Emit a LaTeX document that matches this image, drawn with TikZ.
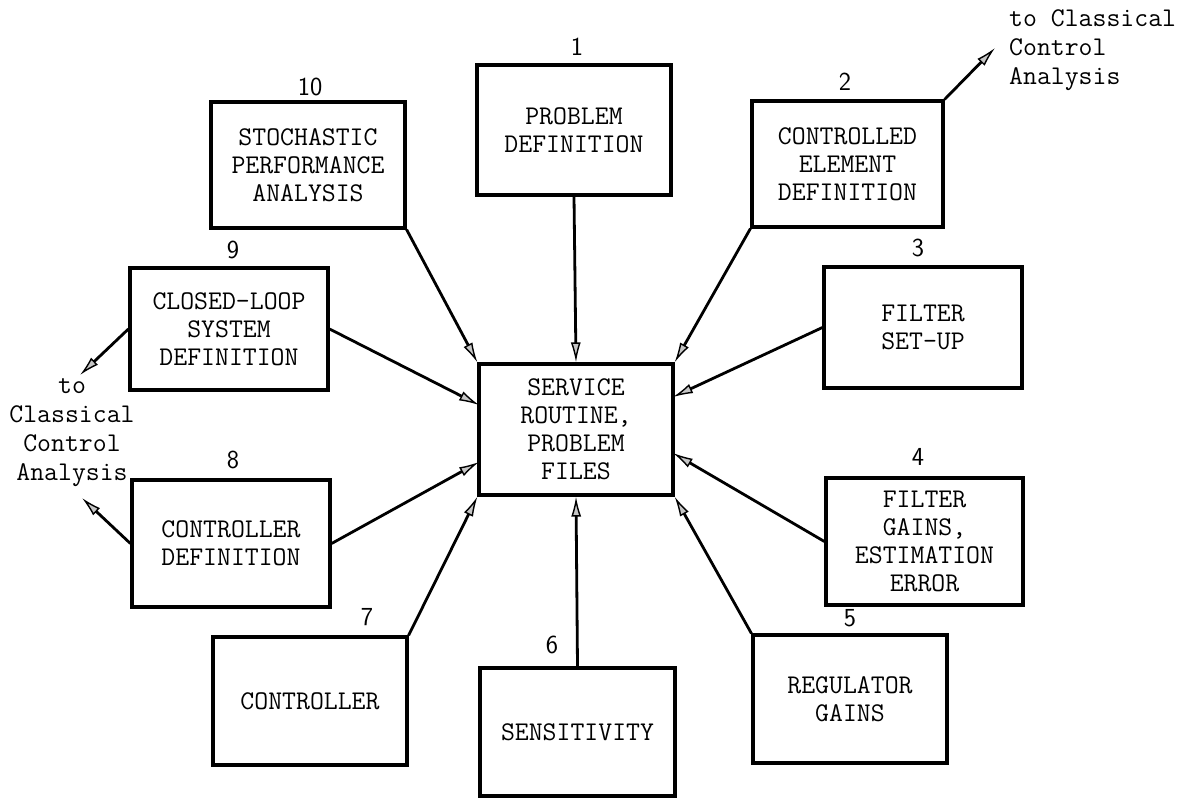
\documentclass[tikz,border=0pt]{standalone}
\usetikzlibrary{arrows.meta}
\begin{document}
\begin{tikzpicture}[x=1pt,y=-1pt,
  box/.style={draw, line width=3.2pt, align=center, inner sep=0pt,
    font=\ttfamily\fontsize{27}{28}\selectfont},
  num/.style={font=\sffamily\fontsize{26}{26}\selectfont, inner sep=0pt},
  note/.style={font=\ttfamily\fontsize{27}{29}\selectfont, inner sep=0pt},
  conn/.style={line width=2.8pt, -{Latex[length=20pt,width=10pt,line width=1.4pt,fill=gray!45]}}
]
\useasboundingbox (0,0) rectangle (1193,798);
% boxes
\node[box, minimum width=194pt, minimum height=130pt] (b1) at (574,130) {PROBLEM\\DEFINITION};
\node[box, minimum width=191pt, minimum height=126pt] (b2) at (847.5,164) {CONTROLLED\\ELEMENT\\DEFINITION};
\node[box, minimum width=198pt, minimum height=121pt] (b3) at (923,327.5) {FILTER\\SET-UP};
\node[box, minimum width=197pt, minimum height=127pt] (b4) at (924.5,541.5) {FILTER\\GAINS,\\ESTIMATION\\ERROR};
\node[box, minimum width=194pt, minimum height=128pt] (b5) at (850,699) {REGULATOR\\GAINS};
\node[box, minimum width=195pt, minimum height=128pt] (b6) at (577.5,732) {SENSITIVITY};
\node[box, minimum width=194pt, minimum height=128pt] (b7) at (310,701) {CONTROLLER};
\node[box, minimum width=198pt, minimum height=127pt] (b8) at (231,543.5) {CONTROLLER\\DEFINITION};
\node[box, minimum width=198pt, minimum height=122pt] (b9) at (229,329) {CLOSED-LOOP\\SYSTEM\\DEFINITION};
\node[box, minimum width=194pt, minimum height=126pt] (b10) at (308,165) {STOCHASTIC\\PERFORMANCE\\ANALYSIS};
\node[box, minimum width=194pt, minimum height=131pt] (s) at (576,429.5) {SERVICE\\ROUTINE,\\PROBLEM\\FILES};
% numbers
\node[num] (n1) at (577,47) {1};
\node[num] (n2) at (845,82) {2};
\node[num] (n3) at (918,248) {3};
\node[num] (n4) at (918,457) {4};
\node[num] (n5) at (850,618) {5};
\node[num] (n6) at (552,645) {6};
\node[num] (n7) at (367,617) {7};
\node[num] (n8) at (233,460) {8};
\node[num] (n9) at (233,250) {9};
\node[num] (n10) at (310,87) {10};
% notes
\node[note, align=left, anchor=west] (tr) at (1009,50) {to Classical\\Control\\Analysis};
\node[note, align=center] (tl) at (72,433) {to\\Classical\\Control\\Analysis};
% coordinates
\coordinate (sL1) at (479,405);
\coordinate (sL2) at (479,462);
\coordinate (sR1) at (673,397);
\coordinate (sR2) at (673,453);
\coordinate (t9) at (80,375);
\coordinate (t8) at (82,498);
\coordinate (t2) at (995,48);
% connectors
\draw[conn] (b1.south) -- (s.north);
\draw[conn] (b2.south west) -- (s.north east);
\draw[conn] (b3.west) -- (sR1);
\draw[conn] (b4.west) -- (sR2);
\draw[conn] (b5.north west) -- (s.south east);
\draw[conn] (b6.north) -- (s.south);
\draw[conn] (b7.north east) -- (s.south west);
\draw[conn] (b8.east) -- (sL2);
\draw[conn] (b9.east) -- (sL1);
\draw[conn] (b10.south east) -- (s.north west);
\draw[conn] (b9.west) -- (t9);
\draw[conn] (b8.west) -- (t8);
\draw[conn] (b2.north east) -- (t2);
\end{tikzpicture}
\end{document}
